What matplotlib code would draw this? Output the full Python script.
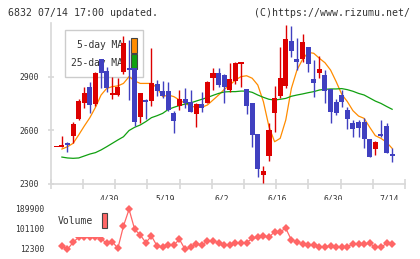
import numpy as np
import matplotlib
matplotlib.use("Agg")
import matplotlib.pyplot as plt
from matplotlib.patches import Rectangle

plt.rcParams['font.family'] = ['DejaVu Sans Mono']

# values, one entry per trading day (index 0..60)
date_labels = ["4/30", "5/19", "6/2", "6/16", "6/30", "7/14"]
label_idx = [10, 20, 30, 40, 50, 60]

opens = [2506, 2508, 2530, 2571, 2664, 2756, 2844, 2747, 3001, 2934,
         2801, 2801, 2930, 2950, 2949, 2678, 2771, 2767, 2861, 2822,
         2822, 2696, 2737, 2775, 2762, 2693, 2749, 2756, 2896, 2924,
         2911, 2827, 2879, 2971, 2833, 2752, 2580, 2351, 2459, 2700,
         2793, 2851, 3102, 2999, 2999, 3066, 2887, 2924, 2911, 2831,
         2762, 2799, 2715, 2640, 2646, 2646, 2552, 2494, 2580, 2625,
         2466]
highs = [2506, 2569, 2535, 2650, 2777, 2846, 2872, 2930, 3001, 2958,
         2898, 2893, 3130, 3110, 2949, 2812, 2775, 3061, 2883, 2878,
         2872, 2711, 2827, 2836, 2827, 2756, 2818, 2878, 2949, 2949,
         2915, 2977, 2986, 2986, 2833, 2752, 2580, 2401, 2640, 2850,
         3066, 3192, 3186, 3117, 3141, 3066, 2995, 3018, 2939, 2831,
         2777, 2827, 2730, 2659, 2659, 2668, 2552, 2543, 2659, 2640,
         2500]
lows = [2506, 2505, 2481, 2528, 2659, 2724, 2700, 2739, 2836, 2818,
        2779, 2793, 2917, 2771, 2625, 2644, 2663, 2737, 2793, 2785,
        2711, 2588, 2715, 2724, 2702, 2621, 2706, 2752, 2827, 2846,
        2756, 2818, 2861, 2846, 2693, 2509, 2341, 2308, 2431, 2593,
        2780, 2836, 3014, 2939, 2986, 2930, 2790, 2893, 2752, 2640,
        2687, 2730, 2608, 2566, 2566, 2504, 2450, 2461, 2562, 2472,
        2425]
closes = [2506, 2512, 2521, 2636, 2765, 2812, 2741, 2921, 2921, 2840,
          2812, 2846, 3092, 2940, 2650, 2808, 2762, 2868, 2822, 2793,
          2715, 2655, 2777, 2756, 2706, 2749, 2728, 2874, 2924, 2855,
          2846, 2887, 2980, 2986, 2739, 2575, 2384, 2373, 2603, 2780,
          2892, 3111, 3048, 2986, 3094, 2971, 2864, 2943, 2823, 2706,
          2700, 2762, 2665, 2607, 2612, 2550, 2450, 2534, 2571, 2472,
          2459]
ma5 = [np.nan, 2496, 2509, 2528, 2575, 2625, 2672, 2730, 2799, 2836,
       2846, 2850, 2864, 2902, 2878, 2864, 2864, 2864, 2840, 2790,
       2799, 2790, 2771, 2752, 2737, 2730, 2730, 2743, 2771, 2799,
       2830, 2855, 2883, 2902, 2907, 2893, 2855, 2762, 2621, 2537,
       2556, 2659, 2836, 2939, 2999, 3038, 3033, 3005, 2980, 2939,
       2874, 2803, 2762, 2711, 2681, 2668, 2618, 2571, 2556, 2534,
       2500]
ma25 = [np.nan, 2451, 2446, 2444, 2446, 2457, 2468, 2476, 2491, 2509,
        2528, 2547, 2565, 2600, 2618, 2631, 2650, 2672, 2683, 2696,
        2718, 2730, 2740, 2748, 2755, 2765, 2775, 2785, 2797, 2808,
        2816, 2818, 2818, 2821, 2821, 2814, 2799, 2786, 2775, 2771,
        2775, 2780, 2792, 2799, 2805, 2812, 2818, 2827, 2831, 2833,
        2833, 2835, 2829, 2820, 2808, 2799, 2782, 2765, 2752, 2735,
        2719]
volume = [np.nan, 22700, 7700, 39300, 62000, 64000, 64000, 64000, 56000, 34800,
          42300, 12200, 113100, 188400, 98000, 72400, 37800, 67900, 22700, 16700,
          27300, 27300, 52900, 7700, 16700, 31800, 27300, 45300, 45300, 37800,
          27300, 27300, 34800, 34800, 37800, 57400, 61900, 67900, 61900, 87500,
          87500, 102600, 49900, 42300, 31800, 27300, 27300, 19700, 19700, 22700,
          16700, 19700, 19700, 31800, 31800, 31800, 34800, 16700, 16700, 34800,
          31800]
vol_ticks = [12300, 101100, 189900]

RED = "#dd0000"
BLUE = "#4040c0"
ORANGE = "#ff8c00"
GREEN = "#10a010"
AXIS = "#d8d8d8"
TXT = "#333333"
VOLC = "#ff6666"

W, H = 420, 259
fig = plt.figure(figsize=(W / 100, H / 100), dpi=100)


def fx(p):
    return p / W


def fy(p):
    return 1 - p / H


# --- price panel ---
ax = fig.add_axes([fx(50.7), fy(184), fx(405) - fx(50.7), fy(23.5) - fy(184)])
x = np.arange(len(opens))
o = np.array(opens, float)
c = np.array(closes, float)
colors = np.where(c >= o, RED, BLUE)

ax.vlines(x, lows, highs, colors=colors, linewidth=1, zorder=3)
body_h = np.maximum(np.abs(c - o), 8)
ax.bar(x, body_h, bottom=np.minimum(o, c), width=0.9, color=colors, linewidth=0, zorder=4)
ax.plot(x, ma5, color=ORANGE, lw=0.9, zorder=2)
ax.plot(x, ma25, color=GREEN, lw=0.9, zorder=2)

ax.set_xlim(-1, 62.3)
ax.set_ylim(2300, 3200)
for s in ["top", "right"]:
    ax.spines[s].set_visible(False)
for s in ["left", "bottom"]:
    ax.spines[s].set_color(AXIS)
    ax.spines[s].set_linewidth(1.2)
ax.set_xticks(np.linspace(-1, 62.3, 12))
ax.set_xticks(np.array(label_idx) - 0.45, date_labels, minor=True)
ax.tick_params(axis="x", which="major", direction="inout", length=6.5, width=1.2,
               color=AXIS, labelbottom=False)
ax.tick_params(axis="x", which="minor", length=0, pad=7.5, labelsize=5.8, labelcolor=TXT)
ax.set_yticks([2300, 2600, 2900])
ax.tick_params(axis="y", direction="inout", length=4.8, width=1.2, color=AXIS,
               pad=5.8, labelsize=5.8, labelcolor=TXT)

# legend box sits under the candles
ax.add_patch(Rectangle((fx(65), fy(77.3)), fx(143.3) - fx(65), fy(30) - fy(77.3),
                       transform=fig.transFigure, facecolor="white", edgecolor="#cccccc",
                       lw=1, zorder=1, clip_on=False))
ax.text(fx(122.5), fy(45.5), "5-day MA", transform=fig.transFigure, ha="right",
        va="center", fontsize=6.9, color=TXT, zorder=1.5)
ax.text(fx(122.5), fy(62.5), "25-day MA", transform=fig.transFigure, ha="right",
        va="center", fontsize=6.9, color=TXT, zorder=1.5)
for y0, col in [(52.5, ORANGE), (69.3, GREEN)]:
    ax.add_patch(Rectangle((fx(131.3), fy(y0)), 6 / W, 15 / H, transform=fig.transFigure,
                           facecolor=col, edgecolor="#444444", lw=0.8, zorder=1.6,
                           clip_on=False))

# --- volume panel ---
vax = fig.add_axes([fx(50.7), fy(256), fx(405) - fx(50.7), fy(200) - fy(256)])
vax.plot(x, volume, color=VOLC, lw=0.9, marker="D", ms=4, mew=0, zorder=2)
vax.set_xlim(-1, 62.3)
per_px = (189900 - 12300) / (248.3 - 209)
vax.set_ylim(12300 - (256 - 248.3) * per_px, 12300 + (248.3 - 200) * per_px)
vax.set_xticks([])
vax.set_yticks(vol_ticks, [str(v) for v in vol_ticks])
vax.tick_params(axis="y", length=0, pad=4.8, labelsize=5.8, labelcolor=TXT)
for s in vax.spines.values():
    s.set_visible(False)
vax.add_patch(Rectangle((fx(55), fy(237)), fx(111) - fx(55), fy(207) - fy(237),
                        transform=fig.transFigure, facecolor="white", edgecolor="none",
                        zorder=3, clip_on=False))
vax.text(fx(58), fy(221.5), "Volume", transform=fig.transFigure, ha="left", va="center",
         fontsize=7, color=TXT, zorder=4)
vax.add_patch(Rectangle((fx(101.7), fy(228.3)), 5.6 / W, 15.6 / H, transform=fig.transFigure,
                        facecolor=VOLC, edgecolor="#444444", lw=0.8, zorder=4, clip_on=False))

# header
fig.text(fx(8), fy(13), "6832 07/14 17:00 updated.", fontsize=7.1, va="center", color=TXT)
fig.text(fx(410), fy(13), "(C)https://www.rizumu.net/", fontsize=7.1, va="center",
         ha="right", color=TXT)

fig.savefig("out.png", dpi=100)
